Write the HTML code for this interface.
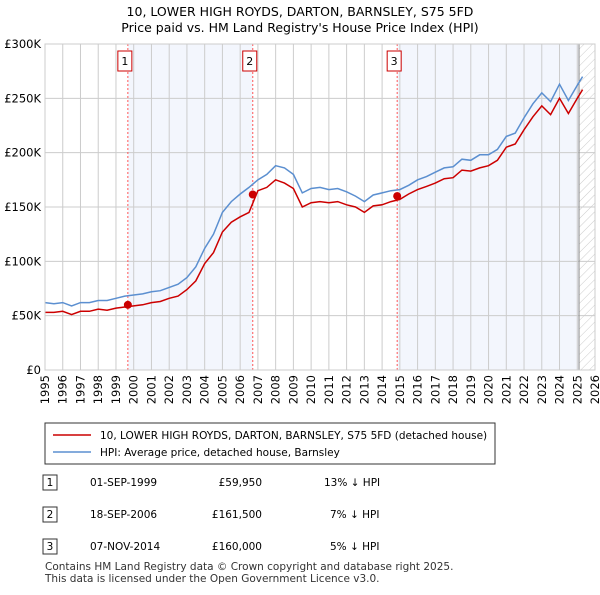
<!DOCTYPE html>
<html><head><meta charset="utf-8"><style>
body{margin:0;background:#fff;font-family:"Liberation Sans","DejaVu Sans",sans-serif;}
svg text{font-family:"DejaVu Sans","Liberation Sans",sans-serif;}
</style></head><body>
<svg id="c" width="600" height="590" xmlns="http://www.w3.org/2000/svg">
<defs><pattern id="h" width="6" height="6" patternUnits="userSpaceOnUse" patternTransform="rotate(45)"><line x1="0" y1="0" x2="0" y2="6" stroke="#ccc" stroke-width="1"/></pattern></defs>
<text x="300" y="16" text-anchor="middle" font-size="12.5">10, LOWER HIGH ROYDS, DARTON, BARNSLEY, S75 5FD</text>
<text x="300" y="32" text-anchor="middle" font-size="12.5">Price paid vs. HM Land Registry's House Price Index (HPI)</text>
<g id="plot"></g>
<g>
<rect x="45" y="423" width="450" height="41" fill="#fff" stroke="#333"/>
<line x1="53" y1="435" x2="91" y2="435" stroke="#cc0000" stroke-width="1.5"/>
<text x="100" y="439" font-size="10.5">10, LOWER HIGH ROYDS, DARTON, BARNSLEY, S75 5FD (detached house)</text>
<line x1="53" y1="452" x2="91" y2="452" stroke="#5b8fd0" stroke-width="1.5"/>
<text x="100" y="456" font-size="10.5">HPI: Average price, detached house, Barnsley</text>
</g>
<g font-size="10.5">
<rect x="43" y="475" width="14" height="15" fill="#fff" stroke="#333"/><text x="50" y="486" text-anchor="middle">1</text>
<text x="90" y="486">01-SEP-1999</text><text x="262" y="486" text-anchor="end">£59,950</text><text x="324" y="486">13% ↓ HPI</text>
<rect x="43" y="507" width="14" height="15" fill="#fff" stroke="#333"/><text x="50" y="518" text-anchor="middle">2</text>
<text x="90" y="518">18-SEP-2006</text><text x="262" y="518" text-anchor="end">£161,500</text><text x="330" y="518">7% ↓ HPI</text>
<rect x="43" y="539" width="14" height="15" fill="#fff" stroke="#333"/><text x="50" y="550" text-anchor="middle">3</text>
<text x="90" y="550">07-NOV-2014</text><text x="262" y="550" text-anchor="end">£160,000</text><text x="330" y="550">5% ↓ HPI</text>
</g>
<text x="45" y="570" font-size="10.5" fill="#333">Contains HM Land Registry data © Crown copyright and database right 2025.</text>
<text x="45" y="582" font-size="10.5" fill="#333">This data is licensed under the Open Government Licence v3.0.</text>
</svg>
<script>
const hpiYears=[1995,1995.5,1996,1996.5,1997,1997.5,1998,1998.5,1999,1999.5,2000,2000.5,2001,2001.5,2002,2002.5,2003,2003.5,2004,2004.5,2005,2005.5,2006,2006.5,2007,2007.5,2008,2008.5,2009,2009.5,2010,2010.5,2011,2011.5,2012,2012.5,2013,2013.5,2014,2014.5,2015,2015.5,2016,2016.5,2017,2017.5,2018,2018.5,2019,2019.5,2020,2020.5,2021,2021.5,2022,2022.5,2023,2023.5,2024,2024.5,2025,2025.3];
const hpiValues=[62,61,62,59,62,62,64,64,66,68,69,70,72,73,76,79,85,95,112,125,145,155,162,168,175,180,188,186,180,163,167,168,166,167,164,160,155,161,163,165,166,170,175,178,182,186,187,194,193,198,198,203,215,218,232,245,255,247,263,248,262,270];
const priceValues=[53,53,54,51,54,54,56,55,57,58,59,60,62,63,66,68,74,82,98,108,127,136,141,145,165,168,175,172,167,150,154,155,154,155,152,150,145,151,152,155,157,162,166,169,172,176,177,184,183,186,188,193,205,208,221,233,243,235,250,236,250,258];
const saleYears=[1999.67,2006.71,2014.85];
const salePrices=[59.95,161.5,160];
const saleLabels=["1","2","3"];
const yTicks=[0,50,100,150,200,250,300];
const yTickLabels=["£0","£50K","£100K","£150K","£200K","£250K","£300K"];
const xTicks=[1995,1996,1997,1998,1999,2000,2001,2002,2003,2004,2005,2006,2007,2008,2009,2010,2011,2012,2013,2014,2015,2016,2017,2018,2019,2020,2021,2022,2023,2024,2025,2026];
const dataEnd=2025.1;
const X0=45,X1=595,Y0=370,Y1=44;
const x=v=>X0+(v-1995)/(2026-1995)*(X1-X0);
const y=v=>Y0-v/300*(Y0-Y1);
const NS="http://www.w3.org/2000/svg";
const g=document.getElementById('plot');
function mk(t,a,p){const e=document.createElementNS(NS,t);for(const k in a)e.setAttribute(k,a[k]);(p||g).appendChild(e);return e;}
let e;
e=mk('rect',{x:x(saleYears[0]),y:Y1,width:x(saleYears[1])-x(saleYears[0]),height:Y0-Y1,fill:'#f3f6fd'});


e=mk('rect',{x:x(saleYears[2]),y:Y1,width:x(dataEnd)-x(saleYears[2]),height:Y0-Y1,fill:'#f3f6fd'});


e=mk('rect',{x:x(dataEnd),y:Y1,width:X1-x(dataEnd),height:Y0-Y1,fill:'url(#h)'});


xTicks.forEach(t=>{e=mk('line',{x1:x(t),x2:x(t),y1:Y1,y2:Y0,stroke:'#ccc'});


e=mk('text',{x:0,y:0,'font-size':11.5,transform:`translate(${x(t)+4},${Y0+5}) rotate(-90)`,'text-anchor':'end'});e.textContent=t;

});
yTicks.forEach((t,i)=>{e=mk('line',{x1:X0,x2:X1,y1:y(t),y2:y(t),stroke:'#ccc'});


e=mk('text',{x:X0-4,y:y(t)+4,'font-size':11.5,'text-anchor':'end'});e.textContent=yTickLabels[i];

});
e=mk('line',{x1:x(dataEnd),x2:x(dataEnd),y1:Y1,y2:Y0,stroke:'#888'});


saleYears.forEach((s,i)=>{e=mk('line',{x1:x(s),x2:x(s),y1:Y1,y2:Y0,stroke:'#f55','stroke-dasharray':'2,2'});


e=mk('rect',{x:x(s)-10,y:51,width:14,height:20,fill:'#fff',stroke:'#c00'});


e=mk('text',{x:x(s)-3,y:65,'font-size':11,'text-anchor':'middle'});e.textContent=saleLabels[i];

});
const path=(ys)=>hpiYears.map((t,i)=>(i?'L':'M')+x(t).toFixed(1)+','+y(ys[i]).toFixed(1)).join('');
e=mk('path',{d:path(hpiValues),fill:'none',stroke:'#5b8fd0','stroke-width':1.5});


e=mk('path',{d:path(priceValues),fill:'none',stroke:'#cc0000','stroke-width':1.5});


saleYears.forEach((s,i)=>{e=mk('circle',{cx:x(s),cy:y(salePrices[i]),r:4,fill:'#cc0000'});

});
e=mk('rect',{x:X0,y:Y1,width:X1-X0,height:Y0-Y1,fill:'none',stroke:'#ccc'});


</script>
</body></html>
